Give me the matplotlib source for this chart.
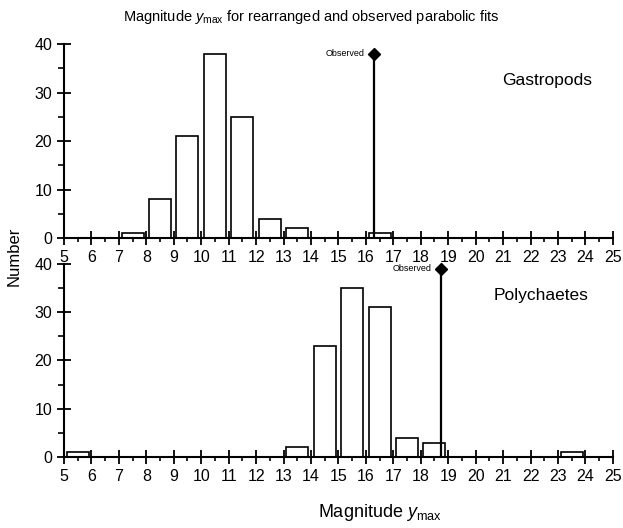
import matplotlib
matplotlib.use('Agg')
import numpy as np
import matplotlib.pyplot as plt
from matplotlib.ticker import MultipleLocator

plt.rcParams['font.family'] = ['Liberation Sans', 'DejaVu Sans']
plt.rcParams['mathtext.fontset'] = 'custom'
plt.rcParams['mathtext.it'] = 'Liberation Sans:italic'
plt.rcParams['mathtext.rm'] = 'Liberation Sans'

# bin left edges (width 1) and counts
bins = np.arange(5, 25)
gastro_counts = [0, 0, 1, 8, 21, 38, 25, 4, 2, 0, 0, 1, 0, 0, 0, 0, 0, 0, 0, 0]
poly_counts = [1, 0, 0, 0, 0, 0, 0, 0, 2, 23, 35, 31, 4, 3, 0, 0, 0, 0, 1, 0]
gastro_obs = (16.3, 38)
poly_obs = (18.75, 39)
panel_names = ["Gastropods", "Polychaetes"]
label_pos = [(22.6, 32.5), (22.4, 33.5)]

fig = plt.figure(figsize=(6.23, 5.28), dpi=100)
ax1 = fig.add_axes([0.1027, 0.549, 0.881, 0.3677])
ax2 = fig.add_axes([0.1027, 0.1345, 0.881, 0.3655])


def draw_panel(ax, counts, obs, name, pos):
    c = np.array(counts, dtype=float)
    keep = c > 0
    ax.bar(bins[keep] + 0.5, c[keep], width=0.8, facecolor='white',
           edgecolor='black', linewidth=1.2)
    ax.plot([obs[0], obs[0]], [0, obs[1]], color='black', lw=1.6)
    ax.plot(obs[0], obs[1], marker='D', color='black', ms=6, clip_on=False)
    ax.text(obs[0] - 0.35, obs[1], "Observed", fontsize=6.5, ha='right', va='center')
    ax.text(pos[0], pos[1], name, fontsize=12.5, ha='center', va='center')

    ax.set_xlim(5, 25)
    ax.set_ylim(0, 40)
    ax.spines['top'].set_visible(False)
    ax.spines['right'].set_visible(False)
    ax.spines['left'].set_linewidth(1.5)
    ax.spines['bottom'].set_linewidth(1.5)
    ax.xaxis.set_major_locator(MultipleLocator(1))
    ax.xaxis.set_minor_locator(MultipleLocator(0.5))
    ax.yaxis.set_major_locator(MultipleLocator(10))
    ax.yaxis.set_minor_locator(MultipleLocator(5))
    ax.tick_params(axis='both', which='major', direction='inout', length=10,
                   width=1.3, labelsize=11.5)
    ax.tick_params(axis='x', which='minor', direction='out', length=3, width=1.2)
    ax.tick_params(axis='y', which='minor', direction='out', length=4, width=1.2)


draw_panel(ax1, gastro_counts, gastro_obs, panel_names[0], label_pos[0])
draw_panel(ax2, poly_counts, poly_obs, panel_names[1], label_pos[1])

fig.text(0.5, 0.968, r"Magnitude $y_{\rm max}$ for rearranged and observed parabolic fits",
         ha='center', va='center', fontsize=10.5)
fig.text(0.022, 0.515, "Number", rotation=90, ha='center', va='center', fontsize=12)
fig.text(0.61, 0.03, r"Magnitude $y_{\rm max}$", ha='center', va='center', fontsize=13)

fig.savefig('out.png', dpi=100)
